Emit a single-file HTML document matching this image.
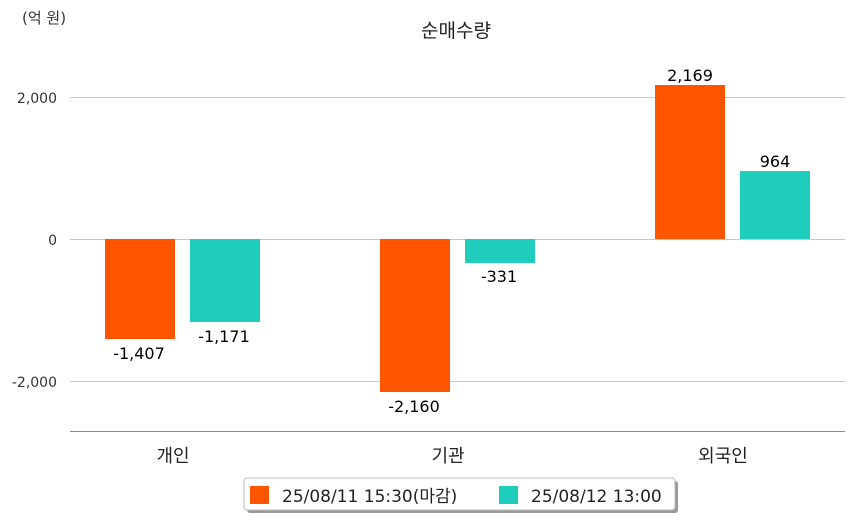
<!DOCTYPE html>
<html><head><meta charset="utf-8"><style>
html,body{margin:0;padding:0;background:#fff;}
svg text{font-family:"DejaVu Sans","Noto Sans CJK KR",sans-serif;}
</style></head><body>
<svg width="854" height="520" viewBox="0 0 854 520" xmlns="http://www.w3.org/2000/svg">
<rect width="854" height="520" fill="#fff"/>
<text x="22" y="23" font-size="15" fill="#333">(억 원)</text>
<text x="456" y="37" font-size="19" fill="#222" text-anchor="middle">순매수량</text>
<g stroke="#c8c8c8" stroke-width="1">
<line x1="70" y1="97.5" x2="845" y2="97.5"/>
<line x1="70" y1="239.5" x2="845" y2="239.5"/>
<line x1="70" y1="381.5" x2="845" y2="381.5"/>
</g>
<line x1="70" y1="431.5" x2="845" y2="431.5" stroke="#888" stroke-width="1"/>
<g font-size="14" fill="#333" text-anchor="end">
<text x="57" y="103">2,000</text>
<text x="57" y="245">0</text>
<text x="57" y="387">-2,000</text>
</g>
<g fill="#ff5400">
<rect x="105" y="239" width="70" height="100"/>
<rect x="380" y="239" width="70" height="153"/>
<rect x="655" y="85" width="70" height="154"/>
</g>
<g fill="#1ecdbb">
<rect x="190" y="239" width="70" height="83"/>
<rect x="465" y="239" width="70" height="24"/>
<rect x="740" y="171" width="70" height="68"/>
</g>
<g font-size="16" fill="#000" text-anchor="middle" font-weight="500">
<text x="139" y="359">-1,407</text>
<text x="224" y="342">-1,171</text>
<text x="414" y="412">-2,160</text>
<text x="499" y="282">-331</text>
<text x="690" y="81">2,169</text>
<text x="775" y="167">964</text>
</g>
<g font-size="18" fill="#222" text-anchor="middle">
<text x="173" y="462">개인</text>
<text x="448" y="462">기관</text>
<text x="723" y="462">외국인</text>
</g>
<rect x="247" y="481" width="431" height="32" rx="3" fill="#999"/>
<rect x="244" y="478" width="431" height="32" rx="3" fill="#fff" stroke="#bbb"/>
<rect x="250" y="486" width="19" height="18" fill="#ff5400"/>
<text x="282" y="502" font-size="17" fill="#222">25/08/11 15:30(마감)</text>
<rect x="499" y="486" width="19" height="18" fill="#1ecdbb"/>
<text x="531" y="502" font-size="17" fill="#222">25/08/12 13:00</text>
</svg>
</body></html>
